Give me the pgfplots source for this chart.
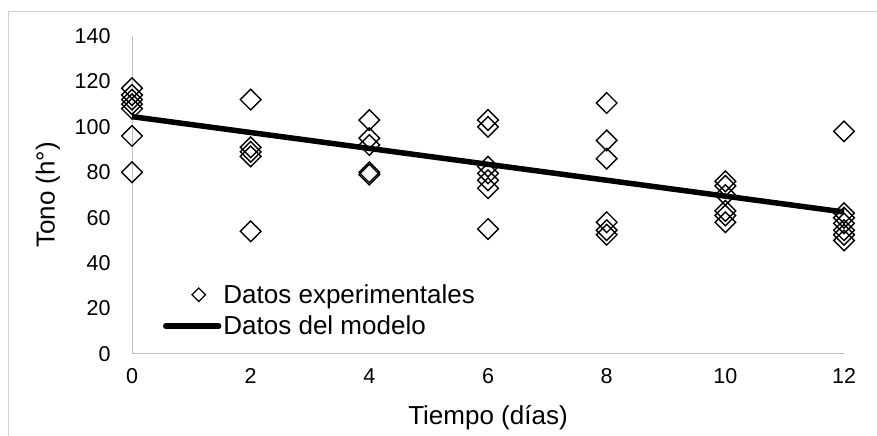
\documentclass[border=0pt]{standalone}
\usepackage{pgfplots}
\pgfplotsset{compat=1.18}
\usepackage{fontspec}
\setmainfont{Liberation Sans}

\begin{document}
\begin{tikzpicture}[x=1bp,y=1bp]
  % page size
  \path[use as bounding box] (0,0) rectangle (877,436);
  % chart area frame
  \draw[black!18, line width=1bp] (8,-10) -- (8,424) -- (890,424);

  \begin{axis}[
    at={(132bp,82bp)}, anchor=south west,
    scale only axis, width=712bp, height=318bp,
    xmin=0, xmax=12, ymin=0, ymax=140,
    xtick={0,2,...,12}, ytick={0,20,...,140},
    axis x line=bottom, axis y line=left,
    axis line style={black!25, line width=1bp, -},
    major tick length=0pt,
    /pgf/number format/assume math mode=true,
    ticklabel style={font=\fontsize{21.5bp}{25bp}\selectfont, black},
    xticklabel style={yshift=-11bp},
    yticklabel style={xshift=-18bp},
    xlabel={Tiempo (días)}, ylabel={Tono (h°)},
    every axis x label/.style={at={(axis description cs:0.5,-0.2)}, anchor=center,
      font=\fontsize{26bp}{30bp}\selectfont},
    every axis y label/.style={at={(axis description cs:-0.118,0.5)}, anchor=center,
      rotate=90, font=\fontsize{26bp}{30bp}\selectfont},
    clip=false,
    legend cell align=left,
    legend style={draw=none, fill=none, at={(axis description cs:0.0435,0.137)},
      anchor=west, font=\fontsize{26bp}{30bp}\selectfont, row sep=7bp,
      inner sep=0pt, outer sep=0pt},
  ]
    % measured values
    \addplot[only marks, mark=square, mark size=7.3bp,
      mark options={rotate=45, line width=1.4bp, fill=none, draw=black},
      legend image code/.code={%
        \path (0bp,0) (53bp,0);
        \draw[line width=1.2bp, rotate around={45:(33bp,0)}]
          (28.2bp,-4.8bp) rectangle (37.8bp,4.8bp);}]
    coordinates {
      (0,117) (0,114) (0,112) (0,110) (0,108) (0,96) (0,80)
      (2,112) (2,91) (2,89) (2,87) (2,54)
      (4,103) (4,95) (4,92) (4,80) (4,79)
      (6,103) (6,100) (6,82.5) (6,79.5) (6,76.5) (6,73) (6,55)
      (8,110.5) (8,94) (8,86) (8,58) (8,54.5) (8,52.5)
      (10,76) (10,74) (10,70) (10,63) (10,61) (10,58)
      (12,98) (12,62) (12,60) (12,57.5) (12,54.5) (12,52.5) (12,50)
    };
    \addlegendentry{Datos experimentales}

    % fitted model
    \addplot[black, line width=5.5bp,
      legend image code/.code={%
        \draw[line width=5.5bp, line cap=round] (0bp,0) -- (53bp,0);}]
    coordinates {(0,104.5) (12,62.5)};
    \addlegendentry{Datos del modelo}
  \end{axis}
\end{tikzpicture}
\end{document}
